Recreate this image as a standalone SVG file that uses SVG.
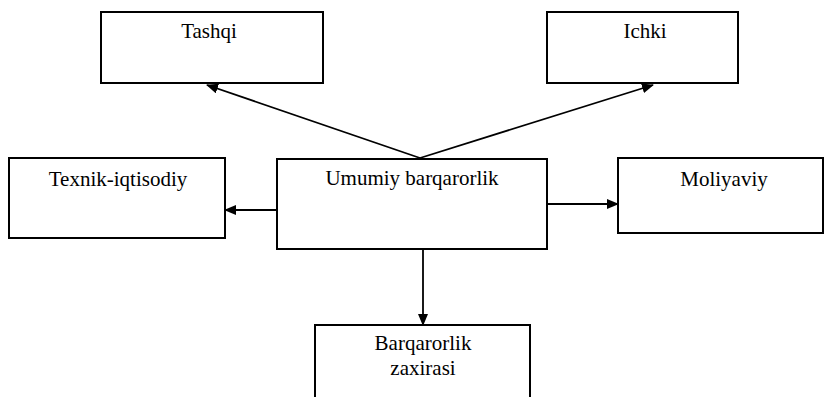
<svg xmlns="http://www.w3.org/2000/svg" width="825" height="397" viewBox="0 0 825 397">
<defs>
<marker id="ah" markerWidth="12" markerHeight="10" refX="11" refY="5" orient="auto" markerUnits="userSpaceOnUse">
<path d="M0,0 L12,5 L0,10 Z" fill="#000"/>
</marker>
<style>
.box{fill:#fff;stroke:#000;stroke-width:2}
.t{font-family:"Liberation Serif","Times New Roman",serif;font-size:21px;fill:#000;text-anchor:middle}
.c{stroke:#000;stroke-width:1.8;fill:none;marker-end:url(#ah)}
</style>
</defs>
<rect width="825" height="397" fill="#fff"/>
<g id="connectors">
<line class="c" x1="420" y1="158" x2="207" y2="85"/>
<line class="c" x1="420" y1="158" x2="653" y2="85"/>
<line class="c" x1="277" y1="210" x2="225" y2="210"/>
<line class="c" x1="547" y1="204" x2="618" y2="204"/>
<line class="c" x1="423" y1="249" x2="423" y2="325"/>
</g>
<g id="tashqi">
<rect class="box" x="101" y="12" width="222" height="71"/>
<text class="t" x="209" y="38">Tashqi</text>
</g>
<g id="ichki">
<rect class="box" x="547" y="12" width="191" height="71"/>
<text class="t" x="645" y="38">Ichki</text>
</g>
<g id="texnik">
<rect class="box" x="9" y="158" width="216" height="80"/>
<text class="t" x="118" y="186">Texnik-iqtisodiy</text>
</g>
<g id="umumiy">
<rect class="box" x="277" y="159" width="270" height="90"/>
<text class="t" x="412" y="185">Umumiy barqarorlik</text>
</g>
<g id="moliyaviy">
<rect class="box" x="618" y="158" width="205" height="75"/>
<text class="t" x="724" y="186">Moliyaviy</text>
</g>
<g id="zaxira">
<rect class="box" x="315" y="325" width="215" height="80"/>
<text class="t" x="423" y="350">Barqarorlik</text>
<text class="t" x="423" y="375">zaxirasi</text>
</g>
</svg>
